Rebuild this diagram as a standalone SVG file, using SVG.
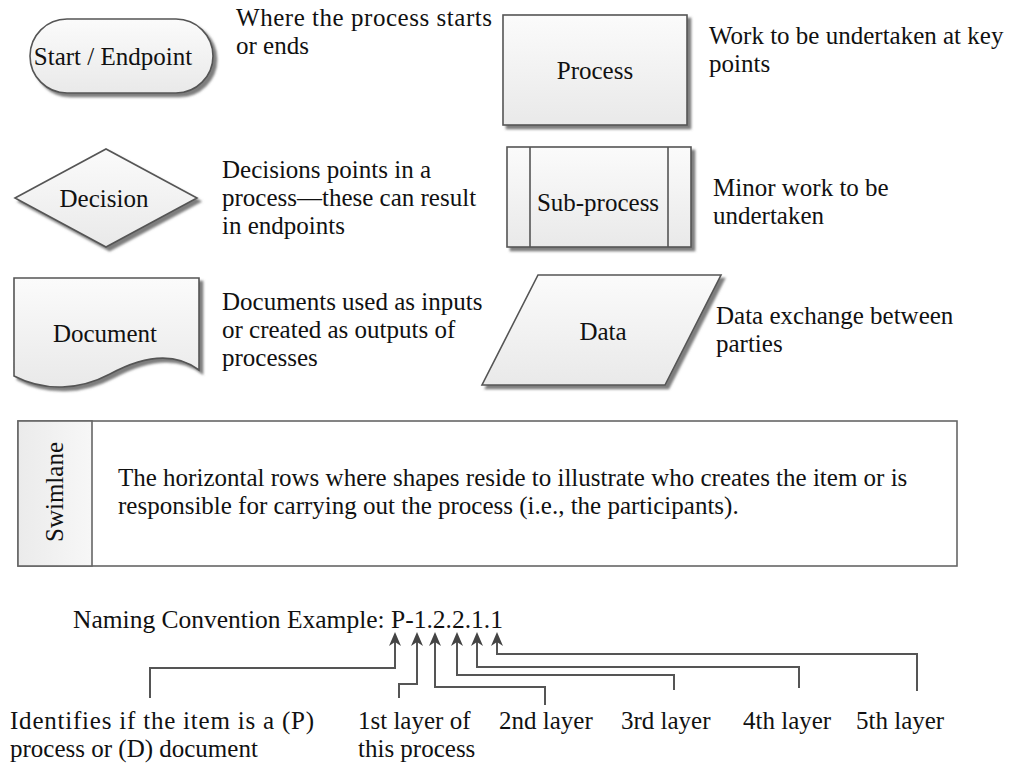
<svg xmlns="http://www.w3.org/2000/svg" width="1013" height="763" viewBox="0 0 1013 763">
<defs>
<linearGradient id="g" x1="0" y1="0" x2="0" y2="1">
<stop offset="0" stop-color="#fbfbfb"/>
<stop offset="1" stop-color="#e9e9e9"/>
</linearGradient>
<linearGradient id="gh" x1="0" y1="0" x2="1" y2="0">
<stop offset="0" stop-color="#ebebeb"/>
<stop offset="1" stop-color="#f7f7f7"/>
</linearGradient>
<filter id="sh" x="-10%" y="-10%" width="130%" height="130%">
<feDropShadow dx="3.5" dy="3.5" stdDeviation="1.3" flood-color="#666" flood-opacity="0.85"/>
</filter>
<marker id="ah" viewBox="0 0 14 12" refX="9" refY="6" markerWidth="14" markerHeight="12" markerUnits="userSpaceOnUse" orient="auto">
<path d="M14,6 L0,0 L4,6 L0,12 Z" fill="#444"/>
</marker>
</defs>
<style>
.shape{fill:url(#g);stroke:#555;stroke-width:1.6;filter:url(#sh)}
.t{font-family:"Liberation Serif","Times New Roman",serif;font-size:25px;fill:#111}
.c{text-anchor:middle}
.ln{fill:none;stroke:#555;stroke-width:2}
</style>

<g id="start-endpoint">
<rect class="shape" x="30" y="19" width="183" height="74" rx="37" ry="37"/>
<text class="t c" x="113" y="65">Start / Endpoint</text>
</g>
<g id="start-desc">
<text class="t" x="236" y="26" textLength="256" lengthAdjust="spacing">Where the process starts</text>
<text class="t" x="236" y="54">or ends</text>
</g>

<g id="process">
<rect class="shape" x="503" y="15" width="184" height="110"/>
<text class="t c" x="595" y="79">Process</text>
</g>
<g id="process-desc">
<text class="t" x="709" y="44">Work to be undertaken at key</text>
<text class="t" x="709" y="72">points</text>
</g>

<g id="decision">
<polygon class="shape" points="15,198 106,149 197,198 106,247"/>
<text class="t c" x="104" y="207">Decision</text>
</g>
<g id="decision-desc">
<text class="t" x="222" y="178">Decisions points in a</text>
<text class="t" x="222" y="206">process—these can result</text>
<text class="t" x="222" y="234">in endpoints</text>
</g>

<g id="sub-process">
<rect class="shape" x="507" y="147" width="184" height="100"/>
<line x1="530" y1="147" x2="530" y2="247" stroke="#555" stroke-width="1.6"/>
<line x1="668" y1="147" x2="668" y2="247" stroke="#555" stroke-width="1.6"/>
<text class="t c" x="598" y="211">Sub-process</text>
</g>
<g id="sub-process-desc">
<text class="t" x="713" y="196">Minor work to be</text>
<text class="t" x="713" y="224">undertaken</text>
</g>

<g id="document">
<path class="shape" d="M14,278 H199 V370 C175,352 145,355 110,374 C80,390 45,392 14,376 Z"/>
<text class="t c" x="105" y="342">Document</text>
</g>
<g id="document-desc">
<text class="t" x="222" y="310">Documents used as inputs</text>
<text class="t" x="222" y="338">or created as outputs of</text>
<text class="t" x="222" y="366">processes</text>
</g>

<g id="data">
<polygon class="shape" points="538,275 721,275 665,385 482,385"/>
<text class="t c" x="603" y="340">Data</text>
</g>
<g id="data-desc">
<text class="t" x="716" y="324">Data exchange between</text>
<text class="t" x="716" y="352">parties</text>
</g>

<g id="swimlane">
<rect x="18" y="421" width="939" height="145" fill="#fff" stroke="#666" stroke-width="1.6"/>
<rect x="18" y="421" width="74" height="145" fill="url(#gh)" stroke="#666" stroke-width="1.6"/>
<text class="t c" transform="translate(63,492) rotate(-90)">Swimlane</text>
<text class="t" x="118" y="486">The horizontal rows where shapes reside to illustrate who creates the item or is</text>
<text class="t" x="118" y="514">responsible for carrying out the process (i.e., the participants).</text>
</g>

<g id="naming">
<text class="t" x="73" y="628" style="font-size:25.5px">Naming Convention Example: P-1.2.2.1.1</text>
</g>

<g id="connectors">
<path class="ln" d="M150,698 V668 H395 V637" marker-end="url(#ah)"/>
<path class="ln" d="M399,698 V684 H417 V637" marker-end="url(#ah)"/>
<path class="ln" d="M545,705 V687 H435 V637" marker-end="url(#ah)"/>
<path class="ln" d="M674,690 V675 H457 V637" marker-end="url(#ah)"/>
<path class="ln" d="M799,688 V667 H477 V637" marker-end="url(#ah)"/>
<path class="ln" d="M917,691 V654 H497 V637" marker-end="url(#ah)"/>
</g>

<g id="labels">
<text class="t" x="10" y="729" textLength="304" lengthAdjust="spacing">Identifies if the item is a (P)</text>
<text class="t" x="10" y="757">process or (D) document</text>
<text class="t" x="358" y="729">1st layer of</text>
<text class="t" x="358" y="757">this process</text>
<text class="t" x="499" y="729">2nd layer</text>
<text class="t" x="621" y="729">3rd layer</text>
<text class="t" x="743" y="729">4th layer</text>
<text class="t" x="856" y="729">5th layer</text>
</g>
</svg>
